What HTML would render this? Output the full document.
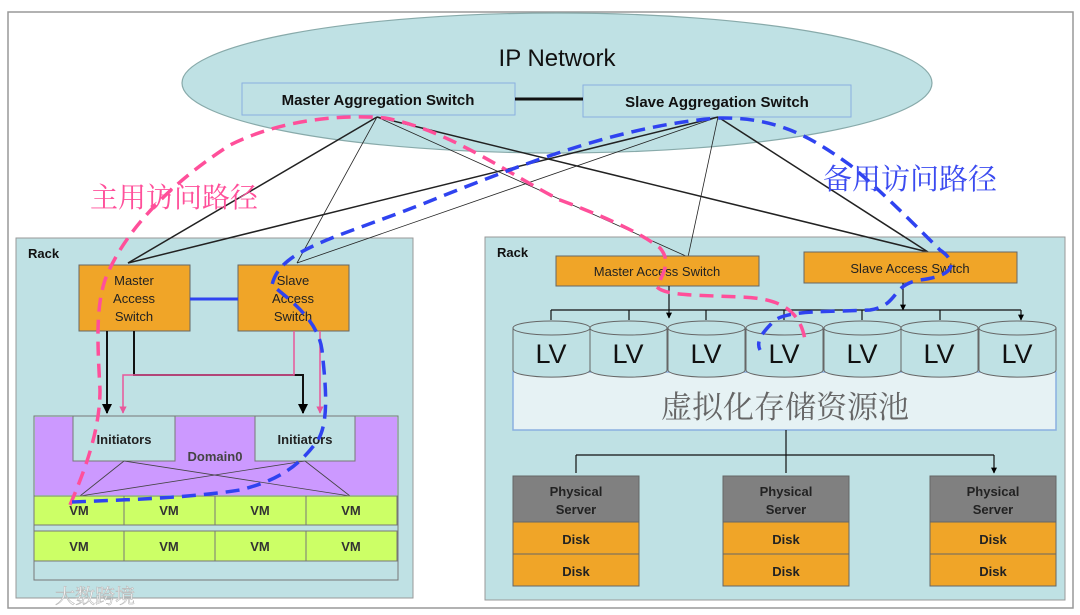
<!DOCTYPE html>
<html><head><meta charset="utf-8"><style>
body{margin:0;background:#fff}
svg{display:block}
text{font-family:"Liberation Sans",Arial,sans-serif}
.cjk{font-family:"Liberation Serif","Noto Serif CJK SC","Noto Sans CJK SC",serif}
</style></head><body>
<svg width="1080" height="615" viewBox="0 0 1080 615" xmlns="http://www.w3.org/2000/svg">
<defs>
<marker id="ar" viewBox="0 0 10 10" refX="9" refY="5" markerWidth="5" markerHeight="5" orient="auto"><path d="M0,0L10,5L0,10z" fill="#000"/></marker>
<marker id="arp" viewBox="0 0 10 10" refX="9" refY="5" markerWidth="5" markerHeight="5" orient="auto"><path d="M0,0L10,5L0,10z" fill="#e8579a"/></marker>
</defs>
<rect x="8" y="12" width="1065" height="596" fill="#fff" stroke="#999" stroke-width="1.5"/>
<ellipse cx="557" cy="83" rx="375" ry="70" fill="#bfe1e4" stroke="#8aa" stroke-width="1.2"/>
<text x="557" y="66" font-size="24" text-anchor="middle" fill="#111">IP Network</text>
<rect x="242" y="83" width="273" height="32" fill="#bfe1e4" stroke="#8ab0e0"/>
<text x="378" y="105" font-size="15" font-weight="bold" text-anchor="middle" fill="#111">Master Aggregation Switch</text>
<rect x="583" y="85" width="268" height="32" fill="#bfe1e4" stroke="#8ab0e0"/>
<text x="717" y="107" font-size="15" font-weight="bold" text-anchor="middle" fill="#111">Slave Aggregation Switch</text>
<line x1="515" y1="99" x2="583" y2="99" stroke="#111" stroke-width="3"/>
<rect x="16" y="238" width="397" height="360" fill="#bfe1e4" stroke="#999"/>
<text x="28" y="258" font-size="13" font-weight="bold" fill="#111">Rack</text>
<rect x="485" y="237" width="580" height="363" fill="#bfe1e4" stroke="#999"/>
<text x="497" y="257" font-size="13" font-weight="bold" fill="#111">Rack</text>
<g stroke="#222" fill="none">
<line x1="377" y1="117" x2="128" y2="263" stroke-width="1.5"/>
<line x1="377" y1="117" x2="297" y2="263" stroke-width="0.8"/>
<line x1="377" y1="117" x2="688" y2="257" stroke-width="0.8"/>
<line x1="377" y1="117" x2="928" y2="252" stroke-width="1.5"/>
<line x1="718" y1="117" x2="128" y2="263" stroke-width="1.5"/>
<line x1="718" y1="117" x2="297" y2="263" stroke-width="0.8"/>
<line x1="718" y1="117" x2="688" y2="257" stroke-width="0.8"/>
<line x1="718" y1="117" x2="928" y2="252" stroke-width="1.5"/>
</g>
<rect x="79" y="265" width="111" height="66" fill="#f0a528" stroke="#666"/>
<text x="134" y="285" font-size="13" text-anchor="middle" fill="#222">Master</text>
<text x="134" y="303" font-size="13" text-anchor="middle" fill="#222">Access</text>
<text x="134" y="321" font-size="13" text-anchor="middle" fill="#222">Switch</text>
<rect x="238" y="265" width="111" height="66" fill="#f0a528" stroke="#666"/>
<text x="293" y="285" font-size="13" text-anchor="middle" fill="#222">Slave</text>
<text x="293" y="303" font-size="13" text-anchor="middle" fill="#222">Access</text>
<text x="293" y="321" font-size="13" text-anchor="middle" fill="#222">Switch</text>
<line x1="190" y1="299" x2="238" y2="299" stroke="#2f43f0" stroke-width="3"/>
<rect x="34" y="416" width="364" height="164" fill="#bfe1e4" stroke="#777"/>
<rect x="35" y="417" width="362" height="78" fill="#cc99ff"/>
<rect x="73" y="416" width="102" height="45" fill="#bfe1e4" stroke="#777"/>
<text x="124" y="444" font-size="13" font-weight="bold" text-anchor="middle" fill="#222">Initiators</text>
<rect x="255" y="416" width="100" height="45" fill="#bfe1e4" stroke="#777"/>
<text x="305" y="444" font-size="13" font-weight="bold" text-anchor="middle" fill="#222">Initiators</text>
<text x="215" y="461" font-size="13" font-weight="bold" text-anchor="middle" fill="#444">Domain0</text>
<g stroke="#444" stroke-width="0.8"><line x1="124" y1="461" x2="80" y2="496"/><line x1="124" y1="461" x2="350" y2="496"/><line x1="305" y1="461" x2="80" y2="496"/><line x1="305" y1="461" x2="350" y2="496"/></g>
<g fill="#ccff66" stroke="#777">
<rect x="34" y="496" width="90" height="29"/><rect x="124" y="496" width="91" height="29"/><rect x="215" y="496" width="91" height="29"/><rect x="306" y="496" width="91" height="29"/>
<rect x="34" y="531" width="90" height="30"/><rect x="124" y="531" width="91" height="30"/><rect x="215" y="531" width="91" height="30"/><rect x="306" y="531" width="91" height="30"/>
</g>
<g font-size="13" font-weight="bold" text-anchor="middle" fill="#333">
<text x="79" y="515">VM</text><text x="169" y="515">VM</text><text x="260" y="515">VM</text><text x="351" y="515">VM</text>
<text x="79" y="551">VM</text><text x="169" y="551">VM</text><text x="260" y="551">VM</text><text x="351" y="551">VM</text>
</g>
<g fill="none" stroke-width="2">
<path d="M107,331V413" stroke="#111" marker-end="url(#ar)"/>
<path d="M134,331V375H303V413" stroke="#111" marker-end="url(#ar)"/>
<path d="M294,331V375H123V413" stroke="#e8579a" stroke-width="1.5" marker-end="url(#arp)"/>
<path d="M320,331V413" stroke="#e8579a" stroke-width="1.5" marker-end="url(#arp)"/>
</g>
<rect x="556" y="256" width="203" height="30" fill="#f0a528" stroke="#666"/>
<text x="657" y="276" font-size="13" text-anchor="middle" fill="#222">Master Access Switch</text>
<rect x="804" y="252" width="213" height="31" fill="#f0a528" stroke="#666"/>
<text x="910" y="273" font-size="13" text-anchor="middle" fill="#222">Slave Access Switch</text>
<g stroke="#111" fill="none" stroke-width="1.2">
<path d="M669,286V318" marker-end="url(#ar)"/>
<path d="M903,283V310" marker-end="url(#ar)"/>
<path d="M551,310H1021"/>
<path d="M551,310V320M629,310V320M706,310V320M784,310V320M862,310V320M940,310V320M1021,310V320" marker-end="url(#ar)"/>
</g>
<rect x="513" y="372" width="543" height="58" fill="#e6f2f4" stroke="#8ab0e0" stroke-width="1.5"/>
<text x="785" y="418" font-size="31" text-anchor="middle" fill="#666" class="cjk">虚拟化存储资源池</text>
<g fill="#bfe1e4" stroke="#666">
<path d="M513,328v42a38,7 0 0 0 77,0v-42z"/><ellipse cx="551.5" cy="328" rx="38.5" ry="7"/>
<path d="M590,328v42a38,7 0 0 0 77,0v-42z"/><ellipse cx="628.5" cy="328" rx="38.5" ry="7"/>
<path d="M668,328v42a38,7 0 0 0 77,0v-42z"/><ellipse cx="706.5" cy="328" rx="38.5" ry="7"/>
<path d="M746,328v42a38,7 0 0 0 77,0v-42z"/><ellipse cx="784.5" cy="328" rx="38.5" ry="7"/>
<path d="M824,328v42a38,7 0 0 0 77,0v-42z"/><ellipse cx="862.5" cy="328" rx="38.5" ry="7"/>
<path d="M901,328v42a38,7 0 0 0 77,0v-42z"/><ellipse cx="939.5" cy="328" rx="38.5" ry="7"/>
<path d="M979,328v42a38,7 0 0 0 77,0v-42z"/><ellipse cx="1017.5" cy="328" rx="38.5" ry="7"/>
</g>
<g font-size="27" text-anchor="middle" fill="#111">
<text x="551" y="363">LV</text><text x="628" y="363">LV</text><text x="706" y="363">LV</text><text x="784" y="363">LV</text><text x="862" y="363">LV</text><text x="939" y="363">LV</text><text x="1017" y="363">LV</text>
</g>
<g stroke="#111" fill="none" stroke-width="1.2">
<path d="M786,430V455"/><path d="M576,455H994"/>
<path d="M576,455V473M786,455V473M994,455V473" marker-end="url(#ar)"/>
</g>
<g stroke="#666">
<rect x="513" y="476" width="126" height="46" fill="#808080"/><rect x="513" y="522" width="126" height="32" fill="#f0a528"/><rect x="513" y="554" width="126" height="32" fill="#f0a528"/>
<rect x="723" y="476" width="126" height="46" fill="#808080"/><rect x="723" y="522" width="126" height="32" fill="#f0a528"/><rect x="723" y="554" width="126" height="32" fill="#f0a528"/>
<rect x="930" y="476" width="126" height="46" fill="#808080"/><rect x="930" y="522" width="126" height="32" fill="#f0a528"/><rect x="930" y="554" width="126" height="32" fill="#f0a528"/>
</g>
<g font-size="13" font-weight="bold" text-anchor="middle" fill="#222">
<text x="576" y="496">Physical</text><text x="576" y="514">Server</text><text x="576" y="544">Disk</text><text x="576" y="576">Disk</text>
<text x="786" y="496">Physical</text><text x="786" y="514">Server</text><text x="786" y="544">Disk</text><text x="786" y="576">Disk</text>
<text x="993" y="496">Physical</text><text x="993" y="514">Server</text><text x="993" y="544">Disk</text><text x="993" y="576">Disk</text>
</g>
<g fill="none" stroke-width="3.5" stroke-dasharray="14,8">
<path d="M70,505C85,470 100,430 100,390C98,350 95,310 105,280C120,240 160,190 230,145C280,120 340,114 385,118C450,130 510,175 560,200C600,215 640,232 660,248C672,262 662,275 657,287C665,296 700,295 740,297C780,298 800,310 805,340" stroke="#ff4f9a"/>
<path d="M72,502C120,500 190,498 240,490C280,480 300,465 318,440C330,420 325,380 322,350C318,320 290,300 272,285C280,250 330,240 420,205C520,165 620,125 720,118C780,117 815,140 850,165C880,190 910,220 940,250C955,260 960,275 920,280C890,285 900,305 870,310C830,312 790,310 775,320C765,330 755,340 760,350" stroke="#2f43f0"/>
</g>
<text x="90" y="207" font-size="28" fill="#ff4f9a" class="cjk">主用访问路径</text>
<text x="823" y="189" font-size="29" fill="#3b4bf0" class="cjk">备用访问路径</text>
<text x="55" y="603" font-size="20" fill="#fff" stroke="#bbb" stroke-width="0.6" class="cjk">大数跨境</text>
</svg>
</body></html>
